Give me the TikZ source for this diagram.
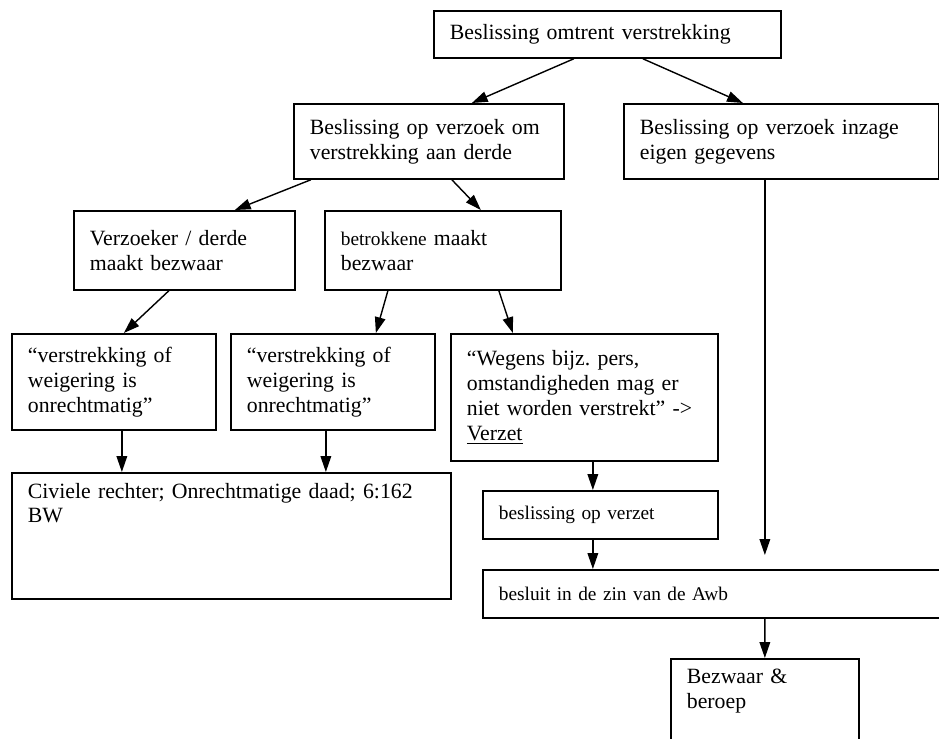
\documentclass[tikz,border=0pt]{standalone}
\usepackage{fontspec}
\setmainfont{Liberation Serif}
\usetikzlibrary{arrows.meta}
\newcommand{\klein}{\fontsize{11}{12.6}\selectfont}
\frenchspacing

\begin{document}
\begin{tikzpicture}[x=0.02cm, y=-0.02cm, font=\fontsize{12.4}{14.2}\selectfont]
\tikzstyle{block} = [draw, line width=1pt, anchor=north west, align=left, inner xsep=0.32cm, inner ysep=0.2cm]
\tikzstyle{link} = [-{Triangle[length=9pt,width=6pt]}, line width=0.8pt]

\useasboundingbox (0,0) rectangle (939,738);

\node[block, text width=6.3cm, minimum height=0.94cm] (omtrent) at (433,10) {Beslissing omtrent verstrekking};
\node[block, text width=4.76cm, minimum height=1.5cm] (derde) at (293,103) {Beslissing op verzoek om\\verstrekking aan derde};
\node[block, text width=5.66cm, minimum height=1.5cm] (inzage) at (623,103) {Beslissing op verzoek inzage\\eigen gegevens};
\node[block, text width=3.78cm, minimum height=1.58cm] (verzoeker) at (73,210) {Verzoeker / derde\\maakt bezwaar};
\node[block, text width=4.08cm, minimum height=1.58cm] (betrokkene) at (324,210) {{\klein betrokkene} maakt\\bezwaar};
\node[block, text width=3.44cm, minimum height=1.92cm] (onrechtA) at (11,333) {“verstrekking of\\weigering is\\onrechtmatig”};
\node[block, text width=3.44cm, minimum height=1.92cm] (onrechtB) at (230,333) {“verstrekking of\\weigering is\\onrechtmatig”};
\node[block, text width=4.7cm, minimum height=2.54cm] (wegens) at (450,333) {“Wegens bijz. pers,\\omstandigheden mag er\\niet worden verstrekt” ->\\\underline{Verzet}};
\node[block, text width=8.14cm, text depth=1.82cm] (civiel) at (11,472) {Civiele rechter; Onrechtmatige daad; 6:162\\BW};
\node[block, text width=4.06cm, minimum height=0.96cm, font=\klein] (verzet) at (482,490) {beslissing op verzet};
\node[block, text width=8.96cm, minimum height=0.96cm, font=\klein] (awb) at (482,569) {besluit in de zin van de Awb};
\node[block, text width=3.12cm, text depth=1.5cm] (bezwaar) at (670,658) {Bezwaar \&\\beroep};

\draw[link] ([xshift=-0.67cm]omtrent.south) -- ([xshift=0.86cm]derde.north);
\draw[link] ([xshift=0.71cm]omtrent.south) -- ([xshift=-0.77cm]inzage.north);
\draw[link] ([xshift=-2.36cm]derde.south) -- ([xshift=1.01cm]verzoeker.north);
\draw[link] ([xshift=0.46cm]derde.south) -- ([xshift=0.76cm]betrokkene.north);
\draw[link] ([xshift=-0.31cm]verzoeker.south) -- ([xshift=0.2cm]onrechtA.north);
\draw[link] ([xshift=-1.1cm]betrokkene.south) -- ([xshift=0.86cm]onrechtB.north);
\draw[link] ([xshift=1.12cm]betrokkene.south) -- ([xshift=-1.43cm]wegens.north);
\draw[link] ([xshift=0.16cm]onrechtA.south) -- ([xshift=0.16cm]onrechtA.south |- civiel.north);
\draw[link] ([xshift=-0.14cm]onrechtB.south) -- ([xshift=-0.14cm]onrechtB.south |- civiel.north);
\draw[link] ([xshift=0.17cm]wegens.south) -- ([xshift=0.17cm]wegens.south |- verzet.north);
\draw[link] ([xshift=-0.15cm]verzet.south) -- ([xshift=-0.15cm]verzet.south |- awb.north);
\draw[link] ([xshift=-0.33cm]inzage.south) -- ([xshift=-0.33cm, yshift=0.28cm]inzage.south |- awb.north);
\draw[link] ([xshift=0.84cm]awb.south) -- (bezwaar.north);
\end{tikzpicture}
\end{document}
